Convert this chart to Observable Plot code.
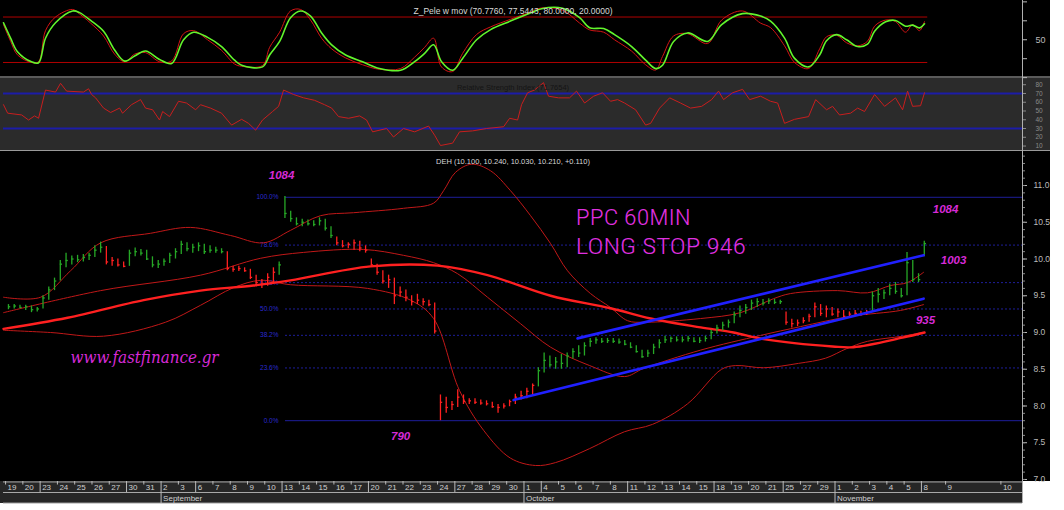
<!DOCTYPE html>
<html><head><meta charset="utf-8">
<script src="https://cdn.jsdelivr.net/npm/d3@7"></script>
<script src="https://cdn.jsdelivr.net/npm/@observablehq/plot@0.6"></script>
<style>
body{margin:0;background:#fff;}
#root{position:relative;width:1064px;height:510px;background:#fff;overflow:hidden;font-family:"Liberation Sans",Arial,sans-serif;}
.abs{position:absolute;}
.abs svg{display:block;overflow:visible;}
</style></head><body>
<div id="root">
  <div class="abs" style="left:0;top:0;width:1050px;height:481px;background:#000"></div>
  <div class="abs" style="left:0;top:78px;width:1050px;height:72px;background:#2b2b2b"></div>
  <div class="abs" style="left:0;top:76px;width:1050px;height:2px;background:#5a5a5a"></div>
  <div class="abs" style="left:0;top:150px;width:1050px;height:1px;background:#9a9a9a"></div>
  <div class="abs" style="left:0;top:481px;width:1022px;height:22px;background:#262626"></div>
  <div id="osc" class="abs" style="left:0;top:0"></div>
  <div id="rsi" class="abs" style="left:0;top:78px"></div>
  <div id="main" class="abs" style="left:0;top:151px"></div>
  <div id="dates" class="abs" style="left:0;top:481px"></div>
  <div class="abs" style="left:1022px;top:0;width:1px;height:503px;background:#b0b0b0"></div>
</div>
<script>
// ---------------- DATA ----------------
const tradingDays = ["2010-08-19","2010-08-20","2010-08-23","2010-08-24","2010-08-25","2010-08-26","2010-08-27","2010-08-30","2010-08-31",
"2010-09-02","2010-09-03","2010-09-06","2010-09-07","2010-09-08","2010-09-09","2010-09-10","2010-09-13","2010-09-14","2010-09-15","2010-09-16","2010-09-17","2010-09-20","2010-09-21","2010-09-22","2010-09-23","2010-09-24","2010-09-27","2010-09-28","2010-09-29","2010-09-30",
"2010-10-01","2010-10-04","2010-10-05","2010-10-06","2010-10-07","2010-10-08","2010-10-11","2010-10-12","2010-10-13","2010-10-14","2010-10-15","2010-10-18","2010-10-19","2010-10-20","2010-10-21","2010-10-25","2010-10-27","2010-10-29",
"2010-11-01","2010-11-02","2010-11-03","2010-11-04","2010-11-05","2010-11-08"];
// future calendar days shown on the axis (in trading-day units)
const futureDays = ["2010-11-09","2010-11-10"];
const futureDayUnits = [54.4, 57.6];
const barsPerDay = 3;

// hourly-ish bars (3 per day, last day 1 bar)
const barLow = [
9.31,9.32,9.33, 9.30,9.27,9.28, 9.32,9.44,9.57, 9.70,9.88,9.92, 9.95,9.96,9.98, 10.02,10.08,9.92, 9.90,9.89,9.88,
9.90,10.03,10.04, 9.98,9.88,9.87, 9.90,9.94,10.0, 10.06,10.1,10.08, 10.1,10.06,10.08, 10.08,10.07,9.84, 9.82,9.83,9.82,
9.72,9.62,9.6, 9.63,9.66,9.78, 10.55,10.5,10.45, 10.44,10.45,10.44, 10.45,10.38,10.28, 10.18,10.15,10.14, 10.12,10.1,10.08,
9.9,9.78,9.66, 9.6,9.38,9.48, 9.42,9.36,9.38, 9.36,9.35,8.98, 7.8,7.9,7.94, 7.98,8.02,8.02, 8.02,8.01,8.0, 7.97,7.9,7.96,
7.99,8.02,8.08, 8.1,8.15,8.26, 8.45,8.52,8.5, 8.5,8.52,8.64, 8.66,8.68,8.8, 8.84,8.85,8.85, 8.85,8.84,8.82, 8.78,8.72,8.65,
8.66,8.7,8.78, 8.85,8.86,8.87, 8.86,8.87,8.86, 8.85,8.87,8.9, 8.98,9.02,9.06, 9.12,9.2,9.25, 9.3,9.34,9.36, 9.38,9.38,9.38,
9.1,9.06,9.08, 9.12,9.14,9.2, 9.22,9.2,9.22, 9.2,9.19,9.2, 9.22,9.22,9.23, 9.28,9.4,9.45, 9.5,9.52,9.47, 9.5,9.68,9.68, 10.03];
const barHigh = [
9.38,9.38,9.37, 9.37,9.36,9.34, 9.50,9.62,9.74, 9.98,10.08,10.04, 10.05,10.06,10.08, 10.18,10.23,10.17, 10.02,10.0,9.96,
10.12,10.15,10.13, 10.12,10.03,9.98, 10.0,10.08,10.14, 10.24,10.22,10.2, 10.22,10.2,10.18, 10.16,10.14,10.1, 9.9,9.9,9.88,
9.86,9.78,9.72, 9.8,9.88,9.96, 10.85,10.65,10.56, 10.54,10.53,10.52, 10.56,10.54,10.44, 10.3,10.25,10.22, 10.26,10.24,10.18,
10.0,9.93,9.84, 9.78,9.74,9.62, 9.58,9.5,9.52, 9.46,9.44,9.4, 8.15,8.12,8.06, 8.22,8.15,8.1, 8.1,8.08,8.07, 8.05,8.02,8.03,
8.08,8.16,8.2, 8.24,8.3,8.52, 8.72,8.68,8.66, 8.7,8.72,8.78, 8.82,8.86,8.92, 8.93,8.92,8.92, 8.92,8.91,8.89, 8.86,8.82,8.76,
8.76,8.84,8.9, 8.95,8.94,8.94, 8.94,8.95,8.93, 8.93,8.95,9.03, 9.1,9.14,9.17, 9.28,9.36,9.38, 9.44,9.46,9.45, 9.46,9.45,9.44,
9.28,9.18,9.17, 9.2,9.25,9.4, 9.38,9.36,9.34, 9.32,9.3,9.28, 9.3,9.29,9.3, 9.55,9.6,9.58, 9.66,9.68,9.6, 10.09,9.98,9.8, 10.24];
const barClose = [
9.35,9.36,9.34, 9.35,9.31,9.32, 9.47,9.58,9.70, 9.93,9.98,10.0, 9.99,10.02,10.05, 10.12,10.16,9.96, 9.98,9.92,9.90,
10.08,10.10,10.08, 10.0,9.92,9.93, 9.97,10.05,10.1, 10.2,10.14,10.16, 10.18,10.1,10.12, 10.12,10.1,9.87, 9.86,9.87,9.84,
9.75,9.68,9.66, 9.75,9.82,9.92, 10.62,10.55,10.48, 10.5,10.48,10.47, 10.52,10.42,10.32, 10.22,10.18,10.2, 10.22,10.15,10.12,
9.92,9.82,9.7, 9.72,9.5,9.55, 9.48,9.42,9.44, 9.42,9.38,9.02, 8.05,7.98,8.02, 8.12,8.06,8.07, 8.05,8.04,8.03, 7.99,7.98,8.0,
8.06,8.12,8.14, 8.2,8.28,8.48, 8.62,8.56,8.6, 8.58,8.68,8.74, 8.72,8.82,8.88, 8.9,8.88,8.89, 8.88,8.87,8.84, 8.8,8.74,8.67,
8.72,8.8,8.86, 8.9,8.92,8.9, 8.9,8.92,8.88, 8.89,8.92,9.0, 9.06,9.1,9.14, 9.24,9.3,9.34, 9.4,9.42,9.4, 9.43,9.41,9.42,
9.14,9.12,9.13, 9.16,9.22,9.35, 9.26,9.32,9.25, 9.28,9.22,9.25, 9.26,9.25,9.28, 9.5,9.52,9.54, 9.6,9.56,9.5, 9.95,9.72,9.72, 10.21];
// colour regime runs (number of bars, trend)
const trendRuns = [[17,"up"],[4,"down"],[17,"up"],[9,"down"],[10,"up"],[35,"down"],[43,"up"],[15,"down"],[10,"up"]];

// indicator lines on the price panel: [trading-day units, price]
const upperBand = [[-0.12,9.48],[2.03,9.48],[3.76,9.84],[5.5,10.22],[8.39,10.35],[10.7,10.43],[13.02,10.32],[14.93,10.22],[16.49,10.39],[18.23,10.59],[20.14,10.63],[23.03,10.69],[24.77,10.76],[25.35,10.93],[26.04,11.18],[26.97,11.29],[28.07,11.2],[29.22,10.93],[30.38,10.59],[31.54,10.21],[32.52,9.84],[33.85,9.53],[35.01,9.34],[36.0,9.16],[37.04,9.14],[40.22,9.19],[42.53,9.27],[44.44,9.46],[45.43,9.53],[48.15,9.57],[49.88,9.54],[51.22,9.64],[52.2,9.68],[53.13,9.82]];
const middleBand = [[-0.12,9.27],[5.5,9.57],[11.28,9.78],[14.76,10.01],[17.25,10.09],[20.72,10.13],[23.03,10.05],[24.77,9.95],[26.16,9.80],[27.89,9.48],[29.8,9.12],[31.54,8.80],[33.8,8.55],[35.82,8.40],[36.92,8.51],[40.22,8.76],[43.69,8.96],[46.0,9.08],[48.9,9.22],[51.79,9.30],[53.13,9.38]];
const lowerBand = [[-0.12,9.03],[2.6,9.0],[5.67,8.95],[9.26,9.14],[11.28,9.37],[13.19,9.61],[14.76,9.71],[16.49,9.65],[20.95,9.60],[23.44,9.44],[24.77,9.19],[26.27,8.21],[27.66,7.67],[29.22,7.29],[30.67,7.19],[31.83,7.23],[33.8,7.42],[35.82,7.65],[37.44,7.75],[39.47,8.03],[41.44,8.50],[42.25,8.55],[43.87,8.52],[45.89,8.58],[47.45,8.65],[48.67,8.78],[49.88,8.88],[51.91,8.95],[53.07,9.0]];
const longMA = [[-0.12,9.05],[3.59,9.2],[7.99,9.44],[11.28,9.57],[14.35,9.64],[16.49,9.71],[21.12,9.9],[25.0,9.91],[27.89,9.78],[31.54,9.5],[35.01,9.33],[37.33,9.19],[40.22,9.07],[42.13,9.0],[43.87,8.91],[47.86,8.81],[49.07,8.8],[51.91,8.93],[53.18,9.0]];
const upperChannel = [[33.1,8.92],[53.13,10.05]];
const lowerChannel = [[29.4,8.08],[53.13,9.46]];

// Fibonacci retracement
const fibHigh = 10.84, fibLow = 7.80, fibStartDay = 16;
const fibLevels = [0, 23.6, 38.2, 50, 61.8, 78.6, 100];

// oscillator panel
const oscU = [-0.12,0.29,0.69,1.50,1.91,2.31,2.89,3.88,4.28,4.92,5.67,6.31,6.89,7.47,8.10,8.91,9.61,10.30,10.88,11.69,12.50,13.25,13.66,14.87,15.28,15.86,16.49,17.07,17.65,18.29,18.87,19.68,20.66,21.64,22.86,23.67,24.25,24.77,25.23,25.87,26.45,27.26,28.07,29.22,30.44,31.02,32.23,33.22,33.80,34.61,35.24,36.23,37.04,37.62,38.02,38.66,39.47,40.63,41.44,42.65,43.69,44.27,45.08,45.66,46.47,47.11,47.51,48.09,48.67,49.31,49.88,50.29,50.93,51.50,52.08,52.49,52.89,53.18];
const oscMain = [72.4,52.2,34.3,20.9,19.6,52,72.4,88,85.8,75.5,61.2,36.6,21.8,28.5,35.2,24,18.7,50,59.9,53.1,41,23.1,16.4,14.2,29.9,47.8,79.1,88,81.3,59,43.3,29.9,20.9,12,9.7,21,32,43.3,20.9,9.7,25.4,50,63.4,74.6,85.8,91,91.6,79.1,65.7,64.8,56.7,41,23.1,11.9,16.4,47.8,59,47.8,70.1,84.5,81.3,74.6,52.2,25.4,14.2,29.9,48.7,56.7,50,41,44.2,61.2,73.7,75.5,67.9,69.3,65.7,71];
const oscSignal = [70,48,30,20,21,62,80,90,84,72,55,31,21,31,33,21,22,58,62,50,36,18,15,16,40,60,88,90,76,52,38,26,17,11,12,27,40,52,14,8,32,57,67,77,87,92,89,72,63,60,50,35,17,10,28,55,58,45,76,88,72,66,42,20,12,38,54,56,46,42,48,68,76,74,60,70,62,74];
const oscBands = [20, 80];

// RSI panel
const rsiU = [-0.12,0.12,0.93,1.33,1.68,1.91,2.31,2.89,3.18,3.53,4.51,4.80,4.98,5.21,5.67,6.08,6.60,6.77,7.29,7.81,8.10,8.51,8.91,9.09,9.49,10.01,10.47,11.0,11.28,11.86,12.5,13.08,13.66,14.06,14.47,14.87,15.45,15.80,16.09,16.67,17.25,17.88,18.46,18.87,19.27,19.85,20.49,20.89,21.24,22.05,22.45,23.03,23.67,24.48,24.83,25.17,25.87,26.27,27.03,27.84,28.82,29.17,29.63,29.86,30.21,30.61,31.13,31.42,32.0,32.64,33.04,33.51,34.03,34.55,35.01,35.42,35.82,36.46,37.04,37.33,37.85,38.43,39.06,39.64,40.28,40.86,41.26,41.55,42.07,42.65,43.06,43.69,44.27,44.68,45.08,45.66,46.47,46.88,47.51,47.86,48.26,48.9,49.31,49.71,50.29,50.87,51.50,51.91,52.2,52.49,52.95,53.18];
const rsiVal = [57.2,47.5,45.5,39.7,44.4,41.7,73.9,71.6,81.6,72.7,71.6,75.4,68.8,65,53.3,48.3,53.3,47.5,57.2,63,53.3,51.4,39.7,49.4,43.6,61.1,59.1,51.4,57.2,53.3,47.5,33.9,40.5,35.9,28.1,39.7,49.4,55.3,73.9,68.8,65,62.2,57.2,53.3,43.6,41.7,44.4,39.7,26.2,30,20.3,30,26.2,32.8,22.3,10.6,13.3,26.2,27.3,30,32,41.7,39.7,57.2,70.8,73.9,82.4,66.9,65,65,72.7,59.1,66.9,70.8,61.1,63,59.1,51.4,33.9,35.9,53.3,65,59.1,53.3,55.3,63,72.7,63,70.8,74.7,63,66.9,61.1,59.1,35.9,40.5,43.6,63,51.4,55.3,45.5,47.5,53.3,49.4,68.8,55.3,65,51.4,72.7,55.3,56,70.8];
const rsiBands = [30, 70];

// titles & annotations
const oscTitle = "Z_Pele w mov (70.7760, 77.5443, 80.0000, 20.0000)";
const rsiTitle = "Relative Strength Index (71.7654)";
const priceTitle = "DEH (10.100, 10.240, 10.030, 10.210, +0.110)";
const levelNotes = [{text:"1084",u:15.97,p:11.14},{text:"1084",u:54.4,p:10.67},{text:"1003",u:54.86,p:9.98},{text:"935",u:53.24,p:9.16},{text:"790",u:22.86,p:7.59}];
const handNotes = [{text:"PPC 60MIN",u:33.0,p:10.565,len:115},{text:"LONG STOP 946",u:33.0,p:10.17,len:170}];
const siteNote = [{text:"www.fastfinance.gr",u:3.76,p:8.65,len:148}];

// ---------------- RENDER ----------------
try {
const W = 1064, ML = 3, MR = 42;
const xDomain = [-0.12, 58.85];
const FONT = "Liberation Sans, Arial, sans-serif";
const n = barClose.length;
if (barLow.length !== n || barHigh.length !== n) throw new Error("bar arrays " + barLow.length + " " + barHigh.length + " " + n);
if (oscMain.length !== oscU.length || oscSignal.length !== oscU.length) throw new Error("osc lengths");
if (rsiVal.length !== rsiU.length) throw new Error("rsi lengths");

const trend = [];
for (const [k, t] of trendRuns) for (let i = 0; i < k; i++) trend.push(t);
const bars = barClose.map((c, i) => {
  const day = Math.floor(i / barsPerDay), slot = i % barsPerDay;
  return {u: day + (slot + 0.5) / barsPerDay, lo: barLow[i], hi: barHigh[i], cl: c, t: trend[i] || "up"};
});
const lastU = bars[bars.length - 1].u;
const col = {up: "#26a826", down: "#ff2020"};
const pairs = a => a.map(([u, p]) => ({u, p}));

const base = (h, yd) => ({
  width: W, height: h, marginLeft: ML, marginRight: MR, marginTop: 0, marginBottom: 0,
  x: {domain: xDomain, axis: null}, y: {domain: yd, axis: null},
  style: {background: "none", overflow: "visible", fontFamily: FONT, color: "#bbb"}
});

// oscillator
const osc = Plot.plot({...base(76, [1.5, 101.8]), marks: [
  Plot.ruleY(oscBands, {x1: xDomain[0], x2: lastU + 0.2, stroke: "#b00000", strokeWidth: 1}),
  Plot.line(oscU.map((u, i) => ({u, v: oscSignal[i]})), {x: "u", y: "v", stroke: "#d41414", strokeWidth: 1, curve: "catmull-rom"}),
  Plot.line(oscU.map((u, i) => ({u, v: oscMain[i]})), {x: "u", y: "v", stroke: "#62f52c", strokeWidth: 1.6, curve: "catmull-rom"}),
  Plot.axisY({anchor: "right", label: null, ticks: [0, 25, 50, 75, 100], tickFormat: d => d === 50 ? "50" : "", tickSize: 4, tickPadding: 9, color: "#bbb", fontSize: 9}),
  Plot.text([oscTitle], {text: d => d, frameAnchor: "top", dy: 7, fill: "#d8d8d8", fontSize: 8.5})
]});
document.getElementById("osc").append(osc);

// RSI
const rsi = Plot.plot({...base(72, [4.9, 87.1]), marks: [
  Plot.ruleY(rsiBands, {stroke: "#1c1ca8", strokeWidth: 2}),
  Plot.line(rsiU.map((u, i) => ({u, v: rsiVal[i]})), {x: "u", y: "v", stroke: "#c81e1e", strokeWidth: 1}),
  Plot.axisY({anchor: "right", label: null, ticks: d3.range(10, 81, 10), tickSize: 3, tickPadding: 10, color: "#8a8a8a", fontSize: 6.5}),
  Plot.text([rsiTitle], {text: d => d, frameAnchor: "top", dy: 6, fill: "#141414", fontSize: 7.5})
]});
document.getElementById("rsi").append(rsi);

// price panel
const fibRows = fibLevels.map(l => ({l, price: fibLow + (fibHigh - fibLow) * l / 100, label: l.toFixed(1) + "%"}));
const fibX1 = fibStartDay + 0.2;
const main = Plot.plot({...base(329, [6.986, 11.463]), marks: [
  Plot.ruleY(fibRows.filter(d => d.l === 0 || d.l === 100), {y: "price", x1: fibX1, x2: xDomain[1], stroke: "#1e1e9a", strokeWidth: 1}),
  Plot.ruleY(fibRows.filter(d => d.l !== 0 && d.l !== 100), {y: "price", x1: fibX1, x2: xDomain[1], stroke: "#1e1e9a", strokeWidth: 1, strokeDasharray: "2,2"}),
  Plot.text(fibRows, {x: fibX1, y: "price", text: "label", textAnchor: "end", dx: -7, fill: "#2a2ad0", fontSize: 6.5}),
  Plot.line(pairs(upperBand), {x: "u", y: "p", stroke: "#c01818", strokeWidth: 1, curve: "catmull-rom"}),
  Plot.line(pairs(middleBand), {x: "u", y: "p", stroke: "#c01818", strokeWidth: 1, curve: "catmull-rom"}),
  Plot.line(pairs(lowerBand), {x: "u", y: "p", stroke: "#c01818", strokeWidth: 1, curve: "catmull-rom"}),
  Plot.line(pairs(longMA), {x: "u", y: "p", stroke: "#ff2020", strokeWidth: 2.4, curve: "catmull-rom"}),
  Plot.ruleX(bars, {x: "u", y1: "lo", y2: "hi", stroke: d => col[d.t], strokeWidth: 1.3}),
  Plot.ruleY(bars, {y: "cl", x1: "u", x2: d => d.u + 0.13, stroke: d => col[d.t], strokeWidth: 1.3}),
  Plot.line(pairs(upperChannel), {x: "u", y: "p", stroke: "#2020ff", strokeWidth: 2.6}),
  Plot.line(pairs(lowerChannel), {x: "u", y: "p", stroke: "#2020ff", strokeWidth: 2.6}),
  Plot.axisY({anchor: "right", label: null, ticks: d3.range(7, 11.01, 0.5), tickFormat: d3.format(".1f"), tickSize: 4, tickPadding: 7, color: "#bbb", fontSize: 8.5}),
  Plot.axisY({anchor: "right", label: null, ticks: d3.range(7, 11.45, 0.1), tickFormat: () => "", tickSize: 2, color: "#888"}),
  Plot.text([priceTitle], {text: d => d, frameAnchor: "top", dy: 7, fill: "#d8d8d8", fontSize: 7.5}),
  Plot.text(levelNotes, {x: "u", y: "p", text: "text", fill: "#d62ad6", fontSize: 11.5, fontWeight: "bold", fontStyle: "italic"}),
  Plot.text(handNotes, {x: "u", y: "p", text: "text", textAnchor: "start", fill: "#e030e0", fontSize: 22, fontWeight: 300, fontFamily: "Roboto Condensed, Liberation Sans Narrow, Roboto, sans-serif", className: "hand"}),
  Plot.text(siteNote, {x: "u", y: "p", text: "text", textAnchor: "start", fill: "#d62ad6", fontSize: 16, fontStyle: "italic", fontFamily: "DejaVu Serif, Liberation Serif, serif", className: "site"})
]});
document.getElementById("main").append(main);
main.querySelectorAll("g.hand text").forEach((t, i) => { t.setAttribute("textLength", handNotes[i].len); t.setAttribute("lengthAdjust", "spacingAndGlyphs"); });
main.querySelectorAll("g.site text").forEach((t, i) => { t.setAttribute("textLength", siteNote[i].len); t.setAttribute("lengthAdjust", "spacingAndGlyphs"); });

// date axis band
const parse = d3.utcParse("%Y-%m-%d");
const dayRows = tradingDays.map((s, i) => {
  const dt = parse(s), prev = i > 0 ? parse(tradingDays[i - 1]) : null;
  const monthStart = prev && prev.getUTCMonth() !== dt.getUTCMonth();
  return {u: i, label: String(dt.getUTCDate()), major: dt.getUTCDay() === 1 || monthStart, monthStart, month: d3.utcFormat("%B")(dt)};
});
futureDays.forEach((s, i) => { const dt = parse(s); dayRows.push({u: futureDayUnits[i], label: String(dt.getUTCDate()), major: dt.getUTCDay() === 1, monthStart: false}); });
const monthRows = dayRows.filter(d => d.monthStart).map(d => ({u: d.u, label: d.month}));
const dates = Plot.plot({width: W, height: 22, marginLeft: ML, marginRight: MR, marginTop: 0, marginBottom: 0,
  x: {domain: xDomain, axis: null}, y: {domain: [0, 1], range: [0, 22], axis: null},
  style: {background: "none", overflow: "visible", fontFamily: FONT},
  marks: [
    Plot.ruleY([0.02, 0.5, 0.98], {stroke: "#a8a8a8", strokeWidth: 1}),
    Plot.ruleX(dayRows.filter(d => d.major), {x: "u", y1: 0, y2: 0.5, stroke: "#bbb"}),
    Plot.ruleX(dayRows.filter(d => !d.major), {x: "u", y1: 0, y2: 0.16, stroke: "#bbb"}),
    Plot.text(dayRows, {x: "u", y: 0.27, text: "label", textAnchor: "start", dx: 2, fill: "#cfcfcf", fontSize: 8}),
    Plot.ruleX(monthRows, {x: "u", y1: 0.5, y2: 1, stroke: "#bbb"}),
    Plot.text(monthRows, {x: "u", y: 0.75, text: "label", textAnchor: "start", dx: 2, fill: "#cfcfcf", fontSize: 8})
  ]});
document.getElementById("dates").append(dates);
} catch (e) {
  const p = document.createElement("pre"); p.style.cssText = "position:absolute;top:0;left:0;color:#f00;background:#fff;z-index:9";
  p.textContent = e.stack || String(e); document.getElementById("root").append(p);
}
</script>
</body></html>
